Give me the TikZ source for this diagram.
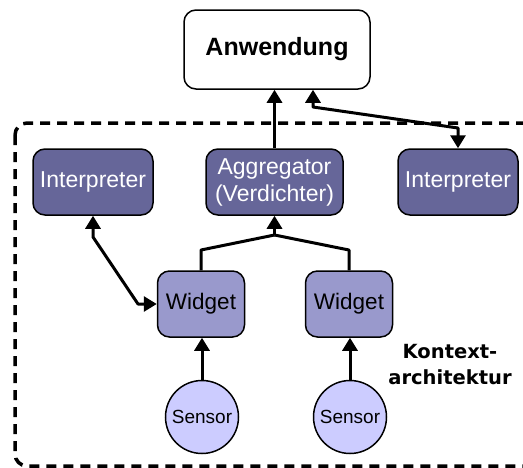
\documentclass[tikz,border=0pt]{standalone}
\usepackage{fontspec}
\setmainfont{Liberation Sans}
\newfontfamily\verdanalike{DejaVu Sans}
\usetikzlibrary{arrows.meta}
\definecolor{darkbox}{RGB}{102,102,153}
\definecolor{midbox}{RGB}{153,153,204}
\definecolor{lightbox}{RGB}{204,204,255}
\tikzset{
  base/.style={draw=black, line width=1.5pt, rounded corners=12pt, inner sep=0pt, align=center},
  appbox/.style={base, fill=white, minimum width=186pt, minimum height=79pt,
    font=\fontsize{25}{29}\selectfont\bfseries},
  darknode/.style={base, fill=darkbox, text=white, minimum height=66pt,
    font=\fontsize{23}{27}\selectfont},
  widgetnode/.style={base, fill=midbox, minimum width=87pt, minimum height=66pt,
    font=\fontsize{22.5}{26}\selectfont},
  sensornode/.style={circle, draw=black, line width=1.5pt, fill=lightbox, minimum size=73pt,
    inner sep=0pt, font=\fontsize{19}{22}\selectfont},
  conn/.style={line width=3pt, line join=round},
  tip/.style={-{Triangle[width=15pt,length=13pt]}},
  tips/.style={{Triangle[width=15pt,length=13pt]}-{Triangle[width=15pt,length=13pt]}},
  frame/.style={draw=black, line width=3.5pt, dash pattern=on 10pt off 7pt, rounded corners=12pt}
}
\begin{document}
\begin{tikzpicture}[x=1pt, y=-1pt]
\useasboundingbox (0,0) rectangle (523,467);
\clip (0,0) rectangle (523,467);

% context architecture frame (runs past the right edge)
\draw[frame] (15,123) rectangle (545,466);

% nodes
\node[appbox] (app) at (277,49.5) {Anwendung};
\node[darknode, minimum width=120pt] (intL) at (93,182) {Interpreter};
\node[darknode, minimum width=137pt] (agg) at (274.5,182) {Aggregator\\(Verdichter)};
\node[darknode, minimum width=120pt] (intR) at (458,182) {Interpreter};
\node[widgetnode] (wL) at (201,304) {Widget};
\node[widgetnode] (wR) at (349,304) {Widget};
\node[sensornode] (sL) at (202,417) {Sensor};
\node[sensornode] (sR) at (350,417) {Sensor};

\node[font=\verdanalike\fontsize{19.5}{26}\selectfont\bfseries, align=center] (lbl) at (450,365) {Kontext-\\architektur};

% helper points for the bent connectors
\coordinate (join) at (274.5,235);

% connectors
\draw[conn, tip] (agg.north) -- (app.south -| agg.north);
\draw[conn, tips] (app.south -| 313,0) -- (313,107) -- (458,128) -- (intR.north);
\draw[conn, tips] (intL.south) -- (93,237) -- (138,304) -- (wL.west);
\draw[conn] (wL.north) -- (201,250) -- (join);
\draw[conn] (wR.north) -- (349,250) -- (join);
\draw[conn, tip] (join) -- (agg.south);
\draw[conn, tip] (sL.north) -- (sL.north |- wL.south);
\draw[conn, tip] (sR.north) -- (sR.north |- wR.south);
\end{tikzpicture}
\end{document}
